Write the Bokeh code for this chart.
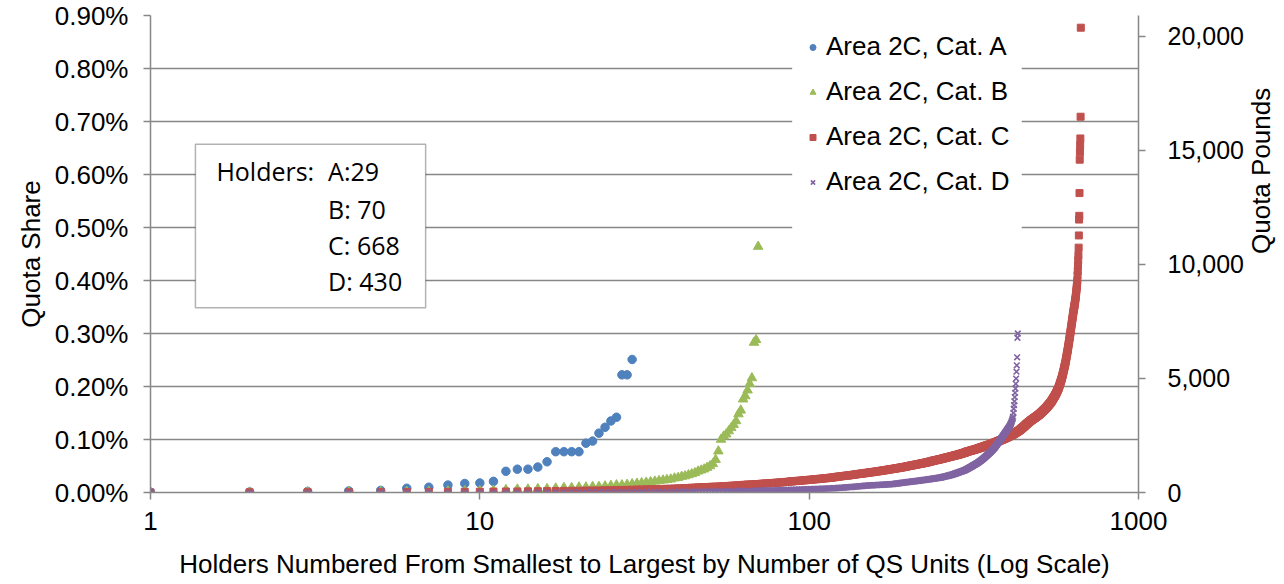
import math
from bokeh.plotting import figure
from bokeh.models import (Range1d, LinearAxis, FixedTicker, PrintfTickFormatter,
                          NumeralTickFormatter, Legend, LegendItem, BoxAnnotation, Label)
from bokeh.embed import file_html
from bokeh.resources import INLINE

# ---------------- data (quota share, percent) ----------------
series_names = ["Area 2C, Cat. A", "Area 2C, Cat. B", "Area 2C, Cat. C", "Area 2C, Cat. D"]

A_qs = [0.0005, 0.001, 0.002, 0.003, 0.004, 0.008, 0.010, 0.014, 0.017, 0.018,
        0.021, 0.040, 0.044, 0.044, 0.048, 0.058, 0.077, 0.077, 0.077, 0.077,
        0.093, 0.097, 0.112, 0.123, 0.135, 0.142, 0.222, 0.222, 0.251]

B_qs = [0.0003, 0.0005, 0.0008, 0.001, 0.0012, 0.0015, 0.002, 0.0025, 0.003, 0.003,
        0.004, 0.005, 0.006, 0.006, 0.007, 0.007, 0.008, 0.009, 0.009, 0.010,
        0.010, 0.011, 0.011, 0.012, 0.013, 0.014, 0.014, 0.015, 0.016, 0.017,
        0.018, 0.019, 0.020, 0.021, 0.022, 0.023, 0.024, 0.025, 0.027, 0.028,
        0.030, 0.031, 0.033, 0.035, 0.037, 0.040, 0.042, 0.044, 0.047, 0.050,
        0.054, 0.062, 0.078, 0.100, 0.106, 0.110, 0.116, 0.122, 0.128, 0.135,
        0.148, 0.155, 0.176, 0.182, 0.193, 0.205, 0.216, 0.283, 0.288, 0.464]

C_qs = [
    0.0002, 0.0003, 0.0005, 0.0006, 0.0008, 0.0009, 0.0011, 0.0012, 0.0014, 0.0015,
    0.0017, 0.0019, 0.0020, 0.0022, 0.0024, 0.0026, 0.0028, 0.0030, 0.0032, 0.0034,
    0.0036, 0.0038, 0.0040, 0.0042, 0.0044, 0.0046, 0.0048, 0.0050, 0.0053, 0.0056,
    0.0058, 0.0060, 0.0062, 0.0064, 0.0066, 0.0068, 0.0070, 0.0072, 0.0075, 0.0078,
    0.0080, 0.0083, 0.0086, 0.0090, 0.0093, 0.0097, 0.0100, 0.0100, 0.0103, 0.0106,
    0.0110, 0.0110, 0.0113, 0.0116, 0.0120, 0.0120, 0.0124, 0.0128, 0.0130, 0.0134,
    0.0138, 0.0140, 0.0143, 0.0146, 0.0150, 0.0150, 0.0153, 0.0156, 0.0160, 0.0160,
    0.0163, 0.0166, 0.0170, 0.0170, 0.0173, 0.0176, 0.0180, 0.0180, 0.0183, 0.0186,
    0.0190, 0.0190, 0.0193, 0.0196, 0.0200, 0.0200, 0.0205, 0.0210, 0.0210, 0.0213,
    0.0216, 0.0220, 0.0220, 0.0223, 0.0226, 0.0230, 0.0230, 0.0233, 0.0236, 0.0240,
    0.0240, 0.0243, 0.0246, 0.0250, 0.0250, 0.0253, 0.0256, 0.0260, 0.0260, 0.0263,
    0.0266, 0.0270, 0.0270, 0.0273, 0.0276, 0.0280, 0.0280, 0.0284, 0.0288, 0.0290,
    0.0294, 0.0298, 0.0300, 0.0303, 0.0306, 0.0310, 0.0310, 0.0313, 0.0316, 0.0320,
    0.0320, 0.0323, 0.0326, 0.0330, 0.0330, 0.0334, 0.0338, 0.0340, 0.0343, 0.0346,
    0.0350, 0.0350, 0.0353, 0.0356, 0.0360, 0.0360, 0.0363, 0.0366, 0.0370, 0.0370,
    0.0373, 0.0376, 0.0380, 0.0380, 0.0383, 0.0386, 0.0390, 0.0390, 0.0393, 0.0396,
    0.0400, 0.0400, 0.0403, 0.0406, 0.0410, 0.0410, 0.0413, 0.0416, 0.0420, 0.0420,
    0.0423, 0.0426, 0.0430, 0.0430, 0.0434, 0.0438, 0.0440, 0.0440, 0.0443, 0.0446,
    0.0450, 0.0450, 0.0453, 0.0456, 0.0460, 0.0460, 0.0463, 0.0466, 0.0470, 0.0470,
    0.0473, 0.0476, 0.0480, 0.0480, 0.0483, 0.0486, 0.0490, 0.0490, 0.0495, 0.0500,
    0.0500, 0.0503, 0.0506, 0.0510, 0.0510, 0.0513, 0.0516, 0.0520, 0.0520, 0.0523,
    0.0526, 0.0530, 0.0530, 0.0534, 0.0538, 0.0540, 0.0540, 0.0543, 0.0546, 0.0550,
    0.0550, 0.0553, 0.0556, 0.0560, 0.0560, 0.0564, 0.0568, 0.0570, 0.0570, 0.0574,
    0.0578, 0.0580, 0.0583, 0.0586, 0.0590, 0.0593, 0.0596, 0.0600, 0.0600, 0.0604,
    0.0607, 0.0610, 0.0610, 0.0613, 0.0616, 0.0620, 0.0620, 0.0623, 0.0626, 0.0630,
    0.0630, 0.0633, 0.0636, 0.0640, 0.0640, 0.0644, 0.0648, 0.0650, 0.0653, 0.0656,
    0.0660, 0.0660, 0.0663, 0.0666, 0.0670, 0.0670, 0.0673, 0.0676, 0.0680, 0.0680,
    0.0683, 0.0686, 0.0690, 0.0690, 0.0694, 0.0698, 0.0700, 0.0700, 0.0703, 0.0706,
    0.0710, 0.0710, 0.0713, 0.0716, 0.0720, 0.0720, 0.0724, 0.0728, 0.0730, 0.0733,
    0.0736, 0.0740, 0.0740, 0.0744, 0.0748, 0.0750, 0.0753, 0.0756, 0.0760, 0.0765,
    0.0770, 0.0770, 0.0773, 0.0776, 0.0780, 0.0780, 0.0783, 0.0786, 0.0790, 0.0790,
    0.0793, 0.0796, 0.0800, 0.0800, 0.0803, 0.0806, 0.0810, 0.0810, 0.0813, 0.0816,
    0.0820, 0.0820, 0.0823, 0.0826, 0.0830, 0.0830, 0.0834, 0.0838, 0.0840, 0.0843,
    0.0846, 0.0850, 0.0850, 0.0853, 0.0856, 0.0860, 0.0860, 0.0864, 0.0868, 0.0870,
    0.0873, 0.0876, 0.0880, 0.0880, 0.0883, 0.0886, 0.0890, 0.0890, 0.0893, 0.0896,
    0.0900, 0.0900, 0.0903, 0.0906, 0.0910, 0.0913, 0.0916, 0.0920, 0.0920, 0.0924,
    0.0928, 0.0930, 0.0933, 0.0936, 0.0940, 0.0940, 0.0944, 0.0948, 0.0950, 0.0953,
    0.0956, 0.0960, 0.0960, 0.0964, 0.0968, 0.0970, 0.0973, 0.0976, 0.0980, 0.0983,
    0.0986, 0.0990, 0.0990, 0.0994, 0.0998, 0.1000, 0.1003, 0.1006, 0.1010, 0.1013,
    0.1016, 0.1020, 0.1020, 0.1024, 0.1028, 0.1030, 0.1034, 0.1038, 0.1040, 0.1044,
    0.1048, 0.1050, 0.1054, 0.1058, 0.1060, 0.1064, 0.1068, 0.1070, 0.1074, 0.1078,
    0.1080, 0.1084, 0.1088, 0.1090, 0.1094, 0.1098, 0.1100, 0.1105, 0.1110, 0.1114,
    0.1118, 0.1120, 0.1125, 0.1130, 0.1134, 0.1138, 0.1140, 0.1145, 0.1150, 0.1154,
    0.1158, 0.1160, 0.1165, 0.1170, 0.1175, 0.1180, 0.1185, 0.1190, 0.1195, 0.1200,
    0.1205, 0.1210, 0.1215, 0.1220, 0.1225, 0.1230, 0.1235, 0.1240, 0.1245, 0.1250,
    0.1256, 0.1262, 0.1268, 0.1275, 0.1280, 0.1285, 0.1290, 0.1295, 0.1300, 0.1305,
    0.1310, 0.1315, 0.1320, 0.1325, 0.1330, 0.1335, 0.1340, 0.1345, 0.1350, 0.1354,
    0.1358, 0.1362, 0.1366, 0.1370, 0.1374, 0.1378, 0.1382, 0.1386, 0.1390, 0.1394,
    0.1398, 0.1402, 0.1406, 0.1410, 0.1414, 0.1418, 0.1422, 0.1426, 0.1430, 0.1434,
    0.1438, 0.1442, 0.1446, 0.1450, 0.1454, 0.1458, 0.1462, 0.1466, 0.1470, 0.1475,
    0.1480, 0.1485, 0.1490, 0.1495, 0.1500, 0.1505, 0.1510, 0.1515, 0.1520, 0.1525,
    0.1530, 0.1535, 0.1540, 0.1545, 0.1550, 0.1555, 0.1560, 0.1565, 0.1570, 0.1575,
    0.1580, 0.1585, 0.1590, 0.1596, 0.1602, 0.1608, 0.1614, 0.1620, 0.1626, 0.1632,
    0.1638, 0.1644, 0.1650, 0.1656, 0.1662, 0.1668, 0.1674, 0.1680, 0.1686, 0.1692,
    0.1698, 0.1705, 0.1712, 0.1720, 0.1728, 0.1736, 0.1744, 0.1752, 0.1760, 0.1768,
    0.1776, 0.1784, 0.1792, 0.1800, 0.1808, 0.1816, 0.1824, 0.1832, 0.1840, 0.1850,
    0.1860, 0.1870, 0.1880, 0.1890, 0.1900, 0.1910, 0.1920, 0.1930, 0.1940, 0.1950,
    0.1962, 0.1974, 0.1986, 0.2000, 0.2014, 0.2028, 0.2042, 0.2056, 0.2070, 0.2085,
    0.2100, 0.2115, 0.2130, 0.2145, 0.2160, 0.2178, 0.2196, 0.2214, 0.2232, 0.2250,
    0.2270, 0.2290, 0.2310, 0.2330, 0.2350, 0.2370, 0.2390, 0.2410, 0.2430, 0.2450,
    0.2475, 0.2500, 0.2525, 0.2550, 0.2575, 0.2600, 0.2625, 0.2650, 0.2675, 0.2700,
    0.2728, 0.2756, 0.2784, 0.2812, 0.2840, 0.2868, 0.2896, 0.2924, 0.2952, 0.2980,
    0.3010, 0.3040, 0.3070, 0.3100, 0.3130, 0.3160, 0.3190, 0.3220, 0.3250, 0.3280,
    0.3310, 0.3340, 0.3370, 0.3400, 0.3425, 0.3450, 0.3475, 0.3500, 0.3525, 0.3550,
    0.3580, 0.3610, 0.3640, 0.3670, 0.3700, 0.3740, 0.3780, 0.3820, 0.3860, 0.3900,
    0.3950, 0.4000, 0.4100, 0.4180, 0.4280, 0.4380, 0.4480, 0.4620, 0.4850, 0.5150,
    0.5220, 0.5650, 0.6280, 0.6420, 0.6550, 0.6680, 0.7090, 0.8770]

D_qs = [
    0.0001, 0.0001, 0.0001, 0.0002, 0.0002, 0.0002, 0.0002, 0.0003, 0.0003, 0.0003,
    0.0003, 0.0004, 0.0004, 0.0004, 0.0005, 0.0005, 0.0005, 0.0006, 0.0006, 0.0006,
    0.0007, 0.0007, 0.0007, 0.0008, 0.0008, 0.0008, 0.0009, 0.0009, 0.0009, 0.0010,
    0.0010, 0.0010, 0.0011, 0.0011, 0.0012, 0.0012, 0.0013, 0.0013, 0.0014, 0.0014,
    0.0015, 0.0015, 0.0016, 0.0016, 0.0017, 0.0017, 0.0018, 0.0018, 0.0019, 0.0019,
    0.0020, 0.0020, 0.0021, 0.0021, 0.0022, 0.0023, 0.0024, 0.0025, 0.0026, 0.0027,
    0.0028, 0.0029, 0.0030, 0.0030, 0.0031, 0.0032, 0.0033, 0.0034, 0.0035, 0.0036,
    0.0037, 0.0038, 0.0039, 0.0040, 0.0040, 0.0041, 0.0042, 0.0043, 0.0044, 0.0045,
    0.0046, 0.0047, 0.0048, 0.0049, 0.0050, 0.0050, 0.0051, 0.0052, 0.0053, 0.0054,
    0.0055, 0.0056, 0.0057, 0.0058, 0.0059, 0.0060, 0.0060, 0.0061, 0.0062, 0.0063,
    0.0064, 0.0065, 0.0066, 0.0067, 0.0068, 0.0069, 0.0070, 0.0070, 0.0071, 0.0072,
    0.0073, 0.0074, 0.0075, 0.0076, 0.0077, 0.0078, 0.0079, 0.0080, 0.0080, 0.0081,
    0.0083, 0.0085, 0.0087, 0.0089, 0.0090, 0.0090, 0.0092, 0.0094, 0.0096, 0.0098,
    0.0100, 0.0100, 0.0102, 0.0104, 0.0106, 0.0108, 0.0110, 0.0110, 0.0112, 0.0114,
    0.0116, 0.0118, 0.0120, 0.0120, 0.0122, 0.0124, 0.0126, 0.0128, 0.0130, 0.0130,
    0.0132, 0.0133, 0.0134, 0.0135, 0.0136, 0.0137, 0.0138, 0.0139, 0.0140, 0.0140,
    0.0141, 0.0142, 0.0143, 0.0144, 0.0145, 0.0146, 0.0147, 0.0148, 0.0149, 0.0150,
    0.0151, 0.0152, 0.0153, 0.0154, 0.0155, 0.0156, 0.0157, 0.0158, 0.0159, 0.0160,
    0.0162, 0.0164, 0.0166, 0.0168, 0.0170, 0.0172, 0.0174, 0.0176, 0.0178, 0.0180,
    0.0182, 0.0184, 0.0186, 0.0188, 0.0190, 0.0190, 0.0192, 0.0194, 0.0196, 0.0198,
    0.0200, 0.0200, 0.0202, 0.0204, 0.0206, 0.0208, 0.0210, 0.0210, 0.0212, 0.0214,
    0.0216, 0.0218, 0.0220, 0.0220, 0.0222, 0.0224, 0.0226, 0.0228, 0.0230, 0.0230,
    0.0232, 0.0234, 0.0236, 0.0238, 0.0240, 0.0240, 0.0242, 0.0244, 0.0246, 0.0248,
    0.0250, 0.0250, 0.0252, 0.0254, 0.0256, 0.0258, 0.0260, 0.0260, 0.0262, 0.0264,
    0.0266, 0.0268, 0.0270, 0.0270, 0.0272, 0.0274, 0.0276, 0.0278, 0.0280, 0.0280,
    0.0283, 0.0286, 0.0290, 0.0290, 0.0293, 0.0296, 0.0300, 0.0300, 0.0303, 0.0306,
    0.0310, 0.0310, 0.0313, 0.0316, 0.0320, 0.0320, 0.0323, 0.0326, 0.0330, 0.0330,
    0.0334, 0.0338, 0.0340, 0.0344, 0.0348, 0.0350, 0.0354, 0.0358, 0.0360, 0.0364,
    0.0368, 0.0370, 0.0374, 0.0378, 0.0380, 0.0385, 0.0390, 0.0390, 0.0395, 0.0400,
    0.0400, 0.0405, 0.0410, 0.0410, 0.0415, 0.0420, 0.0420, 0.0425, 0.0430, 0.0435,
    0.0440, 0.0445, 0.0450, 0.0455, 0.0460, 0.0465, 0.0470, 0.0475, 0.0480, 0.0485,
    0.0490, 0.0495, 0.0500, 0.0505, 0.0510, 0.0515, 0.0520, 0.0525, 0.0530, 0.0535,
    0.0540, 0.0545, 0.0550, 0.0555, 0.0560, 0.0566, 0.0572, 0.0578, 0.0584, 0.0590,
    0.0596, 0.0602, 0.0608, 0.0614, 0.0620, 0.0627, 0.0634, 0.0641, 0.0648, 0.0655,
    0.0662, 0.0669, 0.0676, 0.0683, 0.0690, 0.0697, 0.0704, 0.0711, 0.0718, 0.0725,
    0.0732, 0.0739, 0.0746, 0.0753, 0.0760, 0.0768, 0.0776, 0.0784, 0.0792, 0.0800,
    0.0808, 0.0816, 0.0824, 0.0832, 0.0840, 0.0850, 0.0860, 0.0870, 0.0880, 0.0890,
    0.0900, 0.0910, 0.0920, 0.0930, 0.0940, 0.0950, 0.0960, 0.0970, 0.0980, 0.0990,
    0.1000, 0.1010, 0.1020, 0.1030, 0.1040, 0.1050, 0.1060, 0.1070, 0.1080, 0.1090,
    0.1100, 0.1110, 0.1120, 0.1130, 0.1140, 0.1150, 0.1160, 0.1170, 0.1180, 0.1190,
    0.1200, 0.1210, 0.1220, 0.1230, 0.1240, 0.1250, 0.1260, 0.1275, 0.1290, 0.1305,
    0.1320, 0.1340, 0.1360, 0.1380, 0.1400, 0.1430, 0.1500, 0.1580, 0.1650, 0.1720,
    0.1800, 0.1880, 0.1960, 0.2050, 0.2150, 0.2280, 0.2400, 0.2550, 0.2920, 0.3000]

x_ticks = [1, 10, 100, 1000]
share_ticks = [0.0, 0.1, 0.2, 0.3, 0.4, 0.5, 0.6, 0.7, 0.8, 0.9]
pounds_ticks = [0, 5000, 10000, 15000, 20000]
pounds_max = 20900          # pounds at the 0.90% top of the chart
holders_label = "Holders:"
holders_lines = ["A:29", "B: 70", "C: 668", "D: 430"]

colors = ["#4F81BD", "#9BBB59", "#C0504D", "#8064A2"]
GRID = "#878787"
FONT = "Liberation Sans"

# ---------------- figure ----------------
p = figure(frame_width=988, frame_height=477, x_axis_type="log",
           x_range=Range1d(1, 1000), y_range=Range1d(0, 0.9),
           output_backend="svg", toolbar_location=None,
           min_border_left=150, min_border_right=10,
           min_border_top=15, min_border_bottom=10)
p.outline_line_color = None
p.background_fill_color = "white"
p.xgrid.visible = False
p.ygrid.grid_line_color = GRID
p.ygrid.grid_line_width = 1.5

# x axis
xa = p.xaxis[0]
xa.ticker = FixedTicker(ticks=x_ticks, minor_ticks=[])
xa.formatter = PrintfTickFormatter(format="%d")
xa.axis_label = "Holders Numbered From Smallest to Largest by Number of QS Units (Log Scale)"
xa.major_label_standoff = 12
xa.axis_label_standoff = 16

# left axis
ya = p.yaxis[0]
ya.ticker = FixedTicker(ticks=share_ticks, minor_ticks=[])
ya.formatter = PrintfTickFormatter(format="%.2f%%")
ya.axis_label = "Quota Share"
ya.major_label_standoff = 15
ya.axis_label_standoff = 6

# right axis (pounds)
p.extra_y_ranges = {"lbs": Range1d(0, pounds_max)}
ra = LinearAxis(y_range_name="lbs", ticker=FixedTicker(ticks=pounds_ticks, minor_ticks=[]),
                formatter=NumeralTickFormatter(format="0,0"), axis_label="Quota Pounds")
ra.major_label_standoff = 22
ra.axis_label_standoff = 14
if "axis_label_orientation" in ra.properties():
    ra.axis_label_orientation = math.pi / 2
p.add_layout(ra, "right")

for ax in [xa, ya, ra]:
    ax.axis_line_color = GRID
    ax.axis_line_width = 1.5
    ax.major_tick_line_color = GRID
    ax.major_tick_line_width = 1.5
    ax.major_tick_in = 0
    ax.major_tick_out = 7
    ax.minor_tick_line_color = None
    ax.major_label_text_font = FONT
    ax.major_label_text_font_size = "26px"
    ax.major_label_text_color = "black"
    ax.axis_label_text_font = FONT
    ax.axis_label_text_font_size = "26px"
    ax.axis_label_text_font_style = "normal"
    ax.axis_label_text_color = "black"
ra.major_label_text_font_size = "25px"

# white patch behind legend (interrupts gridlines like the original)
p.add_layout(BoxAnnotation(left=88.8, right=442.0, bottom=0.483, top=0.885,
                           fill_color="white", fill_alpha=1.0, line_color=None,
                           level="underlay"))

# ---------------- series ----------------
rA = p.scatter(list(range(1, len(A_qs) + 1)), A_qs, marker="circle", size=8.5,
               fill_color=colors[0], line_color=colors[0])
rB = p.scatter(list(range(1, len(B_qs) + 1)), B_qs, marker="triangle", size=9.5,
               fill_color=colors[1], line_color=colors[1])
rC = p.scatter(list(range(1, len(C_qs) + 1)), C_qs, marker="square", size=7,
               fill_color=colors[2], line_color=colors[2])
rD = p.scatter(list(range(1, len(D_qs) + 1)), D_qs, marker="x", size=8,
               line_color=colors[3], line_width=1.6)
renderers = [rA, rB, rC, rD]

legend = Legend(items=[LegendItem(label=n, renderers=[r]) for n, r in zip(series_names, renderers)],
                location=(655, 295))
legend.background_fill_alpha = 0
legend.border_line_color = None
legend.padding = 10
legend.spacing = 14
legend.glyph_width = 15
legend.glyph_height = 30
legend.label_height = 30
legend.label_standoff = 6
legend.label_text_font = FONT
legend.label_text_font_size = "26px"
legend.label_text_color = "black"
p.add_layout(legend, "center")

# ---------------- holders text box ----------------
p.add_layout(BoxAnnotation(left=1.369, right=6.846, bottom=0.3485, top=0.6572,
                           fill_color="white", fill_alpha=1.0,
                           line_color="black", line_width=1.5))
box_font = "Open Sans"
p.add_layout(Label(x=1.585, y=0.6057, text=holders_label, text_font=box_font,
                   text_font_size="25px", text_baseline="middle", text_color="black"))
for txt, yy in zip(holders_lines, [0.6057, 0.5358, 0.4666, 0.4000]):
    p.add_layout(Label(x=3.462, y=yy, text=txt, text_font=box_font,
                       text_font_size="25px", text_baseline="middle", text_color="black"))

open("out.html", "w").write(file_html(p, INLINE))
